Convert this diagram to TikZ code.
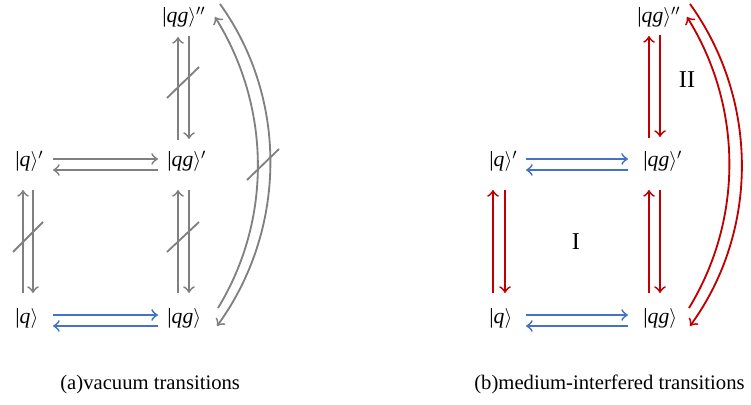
\documentclass[tikz,border=0pt]{standalone}
\usepackage{fontspec}
\setmainfont{Liberation Serif}
\usetikzlibrary{arrows.meta}
\definecolor{cgray}{HTML}{808080}
\definecolor{cblue}{HTML}{4472C4}
\definecolor{cred}{HTML}{C00000}
\tikzset{
  lbl/.style={inner sep=0pt, anchor=base west, font=\fontsize{13}{15}\selectfont},
  captxt/.style={inner sep=0pt, anchor=base west, font=\fontsize{12.4}{15}\selectfont},
  roman/.style={inner sep=0pt, font=\fontsize{14.5}{17}\selectfont},
  conn/.style={line width=1.1pt, -{Classical TikZ Rightarrow[length=4pt,width=7pt]}},
  ga/.style={conn, draw=cgray},
  ba/.style={conn, draw=cblue},
  ra/.style={conn, draw=cred},
  slash/.style={line width=1.1pt, draw=cgray}
}
\newcommand{\ket}[2]{|\textit{#1}$\rangle#2$}
\begin{document}
\begin{tikzpicture}[x=0.6pt,y=-0.6pt]
\useasboundingbox (0,0) rectangle (751,405);
% ---------- panel (a) ----------
\node[lbl] (qA)    at (15,324)  {\ket{q}{}};
\node[lbl] (qgA)   at (167,324) {\ket{qg}{}};
\node[lbl] (qpA)   at (15,167)  {\ket{q}{'}};
\node[lbl] (qgpA)  at (167,167) {\ket{qg}{'}};
\node[lbl] (qgppA) at (162,23)  {\ket{qg}{''}};
% verticals
\draw[ga] ([shift={(11,-27)}]qgpA.base west) -- ([shift={(16,14)}]qgppA.base west);
\draw[ga] ([shift={(27,13)}]qgppA.base west) -- ([shift={(22,-28)}]qgpA.base west);
\draw[ga] ([shift={(11,-31)}]qgA.base west) -- ([shift={(11,23)}]qgpA.base west);
\draw[ga] ([shift={(22,23)}]qgpA.base west) -- ([shift={(22,-31)}]qgA.base west);
\draw[ga] ([shift={(8,-31)}]qA.base west) -- ([shift={(8,23)}]qpA.base west);
\draw[ga] ([shift={(18,23)}]qpA.base west) -- ([shift={(18,-31)}]qA.base west);
% horizontals
\draw[ga] ([shift={(38,-8)}]qpA.base west) -- ([shift={(-9,-8)}]qgpA.base west);
\draw[ga] ([shift={(-9,3)}]qgpA.base west) -- ([shift={(38,3)}]qpA.base west);
\draw[ba] ([shift={(38,-9)}]qA.base west) -- ([shift={(-9,-9)}]qgA.base west);
\draw[ba] ([shift={(-9,2)}]qgA.base west) -- ([shift={(38,2)}]qA.base west);
% arcs
\draw[ga] ([shift={(58,-19)}]qgppA.base west) .. controls +(69,96) and +(69,-95) .. ([shift={(50,2)}]qgA.base west);
\draw[ga] ([shift={(51,-16)}]qgA.base west) .. controls +(55,-90) and +(55,88.5) .. ([shift={(53,-6)}]qgppA.base west);
% slashes
\draw[slash] (167,98) -- (199,67);
\draw[slash] (167,252) -- (199,222);
\draw[slash] (13,252) -- (43,222);
\draw[slash] (247,180) -- (279,149);
% ---------- panel (b) ----------
\node[lbl] (qB)    at (489,324) {\ket{q}{}};
\node[lbl] (qgB)   at (643,324) {\ket{qg}{}};
\node[lbl] (qpB)   at (489,167) {\ket{q}{'}};
\node[lbl] (qgpB)  at (643,167) {\ket{qg}{'}};
\node[lbl] (qgppB) at (637,23)  {\ket{qg}{''}};
\draw[ra] ([shift={(6,-29)}]qgpB.base west) -- ([shift={(12,13)}]qgppB.base west);
\draw[ra] ([shift={(23,12)}]qgppB.base west) -- ([shift={(17,-30)}]qgpB.base west);
\draw[ra] ([shift={(6,-31)}]qgB.base west) -- ([shift={(6,23)}]qgpB.base west);
\draw[ra] ([shift={(17,23)}]qgpB.base west) -- ([shift={(17,-31)}]qgB.base west);
\draw[ra] ([shift={(4,-31)}]qB.base west) -- ([shift={(4,23)}]qpB.base west);
\draw[ra] ([shift={(16,23)}]qpB.base west) -- ([shift={(16,-31)}]qB.base west);
\draw[ba] ([shift={(37,-8)}]qpB.base west) -- ([shift={(-15,-8)}]qgpB.base west);
\draw[ba] ([shift={(-15,3)}]qgpB.base west) -- ([shift={(37,3)}]qpB.base west);
\draw[ba] ([shift={(37,-9)}]qB.base west) -- ([shift={(-15,-9)}]qgB.base west);
\draw[ba] ([shift={(-15,2)}]qgB.base west) -- ([shift={(37,2)}]qB.base west);
\draw[ra] ([shift={(53,-19)}]qgppB.base west) .. controls +(69,96) and +(69,-95) .. ([shift={(47,2)}]qgB.base west);
\draw[ra] ([shift={(46,-16)}]qgB.base west) .. controls +(55,-90) and +(55,88.5) .. ([shift={(50,-6)}]qgppB.base west);
\node[roman] (II) at (687,80) {II};
\node[roman] (I) at (576,242) {I};
% captions
\node[captxt] (capA) at (60,390) {(a)vacuum transitions};
\node[captxt] (capB) at (474,390) {(b)medium-interfered transitions};
\end{tikzpicture}
\end{document}
